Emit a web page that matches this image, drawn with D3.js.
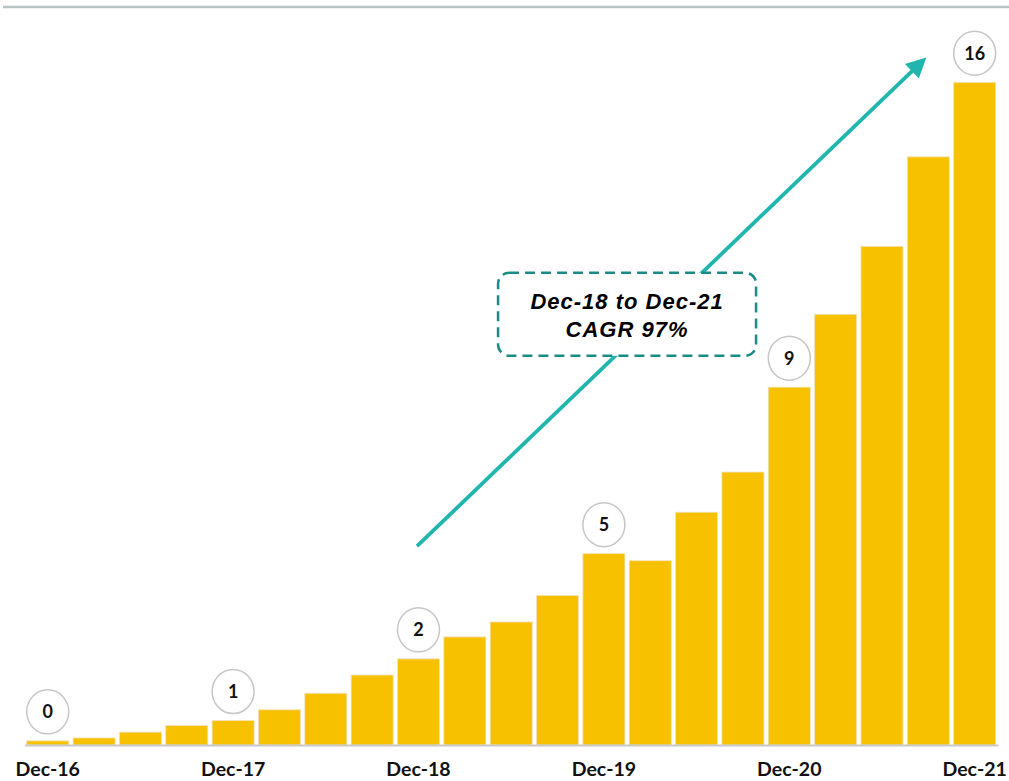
<!DOCTYPE html>
<html>
<head>
<meta charset="utf-8">
<script src="https://cdn.jsdelivr.net/npm/d3@7"></script>
<style>
  html, body { margin: 0; padding: 0; background: #ffffff; }
  svg { display: block; }
</style>
</head>
<body>
<svg id="chart" width="1009" height="781"></svg>
<script>
// ---- data ----
const categories = ["Dec-16","Mar-17","Jun-17","Sep-17","Dec-17","Mar-18","Jun-18","Sep-18",
  "Dec-18","Mar-19","Jun-19","Sep-19","Dec-19","Mar-20","Jun-20","Sep-20",
  "Dec-20","Mar-21","Jun-21","Sep-21","Dec-21"];
const values = [0.10,0.17,0.31,0.47,0.59,0.85,1.25,1.69,
  2.08,2.61,2.97,3.61,4.62,4.45,5.62,6.59,
  8.64,10.40,12.04,14.20,16.0];
const tickLabels = ["Dec-16","Dec-17","Dec-18","Dec-19","Dec-20","Dec-21"];
const bubbleCategories = ["Dec-16","Dec-17","Dec-18","Dec-19","Dec-20","Dec-21"];
const bubbleLabels = ["0","1","2","5","9","16"];
const calloutLines = ["Dec-18 to Dec-21","CAGR 97%"];
// arrow annotation in data terms: [category, value]
const arrowFrom = ["Dec-18", 4.8];
const arrowTo = ["Sep-21", 16.6];
const calloutAnchor = [["Dec-19","Mar-20"], 10.4];

// ---- layout ----
const svg = d3.select("#chart");
const baseY = 745;
const x = d3.scaleBand().domain(categories).range([24.55, 997.85])
  .paddingInner(0.093).paddingOuter(0.0465);
const y = d3.scaleLinear().domain([0, 16]).range([baseY, 82.3]);
const cx = c => x(c) + x.bandwidth() / 2;

// top rule
svg.append("line").attr("x1", 3).attr("x2", 1009).attr("y1", 7).attr("y2", 7)
  .attr("stroke", "#b6c3c3").attr("stroke-width", 2.5);

// bars
svg.append("g").selectAll("rect").data(categories).join("rect")
  .attr("x", d => x(d))
  .attr("width", x.bandwidth())
  .attr("y", (d, i) => y(values[i]))
  .attr("height", (d, i) => baseY - y(values[i]))
  .attr("fill", "#F8C100")
  .attr("stroke", "#efe3bf").attr("stroke-width", 0.8);

// axis
const axis = svg.append("g").attr("transform", `translate(0,${baseY})`)
  .call(d3.axisBottom(x).tickValues(tickLabels).tickSize(0).tickSizeOuter(0));
axis.select(".domain").attr("stroke", "#c9c9c9").attr("stroke-width", 1.8);
axis.selectAll("text").attr("y", 31).attr("dy", 0)
  .attr("font-family", "Lato, 'Open Sans', sans-serif").attr("font-weight", 700)
  .attr("font-size", 19.5).attr("fill", "#111");

// bubbles
const bub = svg.append("g").selectAll("g").data(bubbleCategories).join("g")
  .attr("transform", d => `translate(${cx(d)},${y(values[categories.indexOf(d)]) - 29})`);
bub.append("ellipse").attr("rx", 21).attr("ry", 22)
  .attr("fill", "#fff").attr("stroke", "#c6c6c6").attr("stroke-width", 1.5);
bub.append("text").text((d, i) => bubbleLabels[i])
  .attr("text-anchor", "middle").attr("dy", "0.36em")
  .attr("font-family", "Lato, 'Open Sans', sans-serif").attr("font-weight", 700)
  .attr("font-size", 18).attr("fill", "#111");

// arrow
const teal = "#20B6AE";
const x1 = cx(arrowFrom[0]) - 1.5, y1 = y(arrowFrom[1]);
const tipX = cx(arrowTo[0]) - 2, tipY = y(arrowTo[1]);
const ang = Math.atan2(tipY - y1, tipX - x1);
const headLen = 20, headHalf = 10;
const bx = tipX - headLen * Math.cos(ang), by = tipY - headLen * Math.sin(ang);
svg.append("line").attr("x1", x1).attr("y1", y1).attr("x2", bx + 2 * Math.cos(ang)).attr("y2", by + 2 * Math.sin(ang))
  .attr("stroke", teal).attr("stroke-width", 3.8);
svg.append("polygon")
  .attr("points", [
    [tipX, tipY],
    [bx + headHalf * Math.sin(ang), by - headHalf * Math.cos(ang)],
    [bx - headHalf * Math.sin(ang), by + headHalf * Math.cos(ang)]
  ].map(p => p.join(",")).join(" "))
  .attr("fill", teal);

// callout
const ccx = (cx(calloutAnchor[0][0]) + cx(calloutAnchor[0][1])) / 2;
const ccy = y(calloutAnchor[1]);
const bw = 258, bh = 83;
svg.append("rect").attr("x", ccx - bw / 2).attr("y", ccy - bh / 2)
  .attr("width", bw).attr("height", bh).attr("rx", 11).attr("ry", 11)
  .attr("fill", "#fff").attr("stroke", "#1a8c86").attr("stroke-width", 2.5)
  .attr("stroke-dasharray", "10,6");
svg.append("g").selectAll("text").data(calloutLines).join("text")
  .text(d => d)
  .attr("x", ccx).attr("y", (d, i) => ccy - 5 + i * 28)
  .attr("text-anchor", "middle")
  .attr("font-family", "'Liberation Sans', Arial, sans-serif")
  .attr("font-style", "italic").attr("font-weight", 700)
  .attr("font-size", 22).attr("letter-spacing", 1).attr("fill", "#000");
</script>
</body>
</html>
